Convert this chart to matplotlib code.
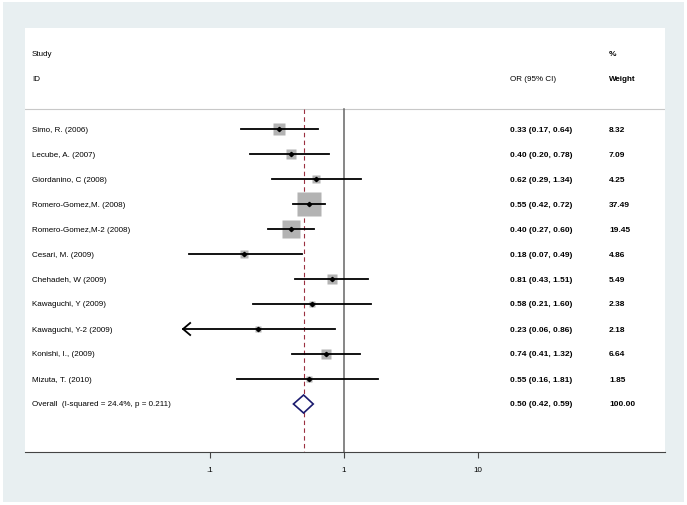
import numpy as np
import matplotlib
matplotlib.use("Agg")
import matplotlib.pyplot as plt
from matplotlib.patches import Rectangle, Polygon
import matplotlib.transforms as mtransforms

plt.rcParams['font.family'] = ['Liberation Sans', 'DejaVu Sans']

studies = ["Simo, R. (2006)", "Lecube, A. (2007)", "Giordanino, C (2008)",
           "Romero-Gomez,M. (2008)", "Romero-Gomez,M-2 (2008)", "Cesari, M. (2009)",
           "Chehadeh, W (2009)", "Kawaguchi, Y (2009)", "Kawaguchi, Y-2 (2009)",
           "Konishi, I., (2009)", "Mizuta, T. (2010)"]
odds = [0.33, 0.40, 0.62, 0.55, 0.40, 0.18, 0.81, 0.58, 0.23, 0.74, 0.55]
lower = [0.17, 0.20, 0.29, 0.42, 0.27, 0.07, 0.43, 0.21, 0.06, 0.41, 0.16]
upper = [0.64, 0.78, 1.34, 0.72, 0.60, 0.49, 1.51, 1.60, 0.86, 1.32, 1.81]
weights = [8.32, 7.09, 4.25, 37.49, 19.45, 4.86, 5.49, 2.38, 2.18, 6.64, 1.85]
overall = (0.50, 0.42, 0.59)
overall_label = "Overall  (I-squared = 24.4%, p = 0.211)"
xticks = [0.1, 1, 10]
xticklabels = [".1", "1", "10"]
clip_low = 0.063

W, H = 687, 506
fig = plt.figure(figsize=(W / 100, H / 100), dpi=100, facecolor="white")
fig.patches.append(Rectangle((3 / W, 3 / H), 681 / W, 500 / H, transform=fig.transFigure,
                             facecolor="#e8eff1", edgecolor="none", zorder=0))

x0, x1, ytop, ybot = 25, 665, 29, 453
ax = fig.add_axes([x0 / W, 1 - ybot / H, (x1 - x0) / W, (ybot - ytop) / H])
ax.set_zorder(5)
ax.set_facecolor("white")
ax.set_xscale("log")
ax.set_xlim(10 ** -2.38, 10 ** 2.396)
ax.set_ylim((ybot - 130) / 25, (ytop - 130) / 25)

for s in ["top", "left", "right"]:
    ax.spines[s].set_visible(False)
ax.spines["bottom"].set_color("#444444")
ax.spines["bottom"].set_linewidth(0.8)
ax.set_yticks([])
ax.set_xticks(xticks)
ax.set_xticklabels(xticklabels, fontsize=5.8)
ax.xaxis.set_minor_locator(matplotlib.ticker.NullLocator())
ax.tick_params(axis="x", length=4, width=0.8, color="#444444", pad=6)

tr = mtransforms.blended_transform_factory(ax.transAxes, ax.transData)
sep = -0.8
ax.axhline(sep, color="#c8c8c8", lw=0.8)
ax.plot([1, 1], [sep, ax.get_ylim()[0]], color="#666666", lw=1.1)
ax.plot([overall[0], overall[0]], [sep, ax.get_ylim()[0]], color="#9b3040", lw=0.8,
        ls=(0, (4, 3)))

fs = 5.8
fv = 6.0
col_or = (510 - x0) / (x1 - x0)
col_w = (609 - x0) / (x1 - x0)
col_id = (32 - x0) / (x1 - x0)
ax.text(col_id, -3.04, "Study", fontsize=fs, va="center", transform=tr)
ax.text(col_id, -2.04, "ID", fontsize=fs, va="center", transform=tr)
ax.text(col_or, -2.04, "OR (95% CI)", fontsize=fs, va="center", transform=tr)
ax.text(col_w, -3.04, "%", fontsize=fv, va="center", transform=tr, fontweight="bold")
ax.text(col_w, -2.04, "Weight", fontsize=fs, va="center", transform=tr, fontweight="bold")

wmax = max(weights)
for i, (name, o, lo, hi, w) in enumerate(zip(studies, odds, lower, upper, weights)):
    side = 24 * np.sqrt(w / wmax) * 0.72
    ax.plot(o, i, marker="s", ms=side, color="#b3b3b3", mec="none", zorder=2)
    if lo < clip_low:
        ax.plot([clip_low, hi], [i, i], color="black", lw=1.3, zorder=3)
        ax.plot([clip_low * 1.13, clip_low, clip_low * 1.13], [i - 0.24, i, i + 0.24],
                color="black", lw=1.3, zorder=3)
    else:
        ax.plot([lo, hi], [i, i], color="black", lw=1.3, zorder=3)
    ax.plot(o, i, marker="D", ms=2.2, color="black", zorder=4)
    ax.text(col_id, i, name, fontsize=fs, va="center", transform=tr)
    ax.text(col_or, i, "%.2f (%.2f, %.2f)" % (o, lo, hi), fontsize=fv, va="center",
            transform=tr, fontweight="bold")
    ax.text(col_w, i, "%.2f" % w, fontsize=fv, va="center", transform=tr, fontweight="bold")

n = len(studies)
oc, ol, oh = overall
ax.add_patch(Polygon([(ol, n), (oc, n - 0.36), (oh, n), (oc, n + 0.36)], closed=True,
                     facecolor="white", edgecolor="#1a1a6e", lw=1.2, zorder=5))
ax.text(col_id, n, overall_label, fontsize=fs, va="center", transform=tr)
ax.text(col_or, n, "%.2f (%.2f, %.2f)" % (oc, ol, oh), fontsize=fv, va="center",
        transform=tr, fontweight="bold")
ax.text(col_w, n, "100.00", fontsize=fv, va="center", transform=tr, fontweight="bold")

fig.savefig("out.png", dpi=100, facecolor="white")
